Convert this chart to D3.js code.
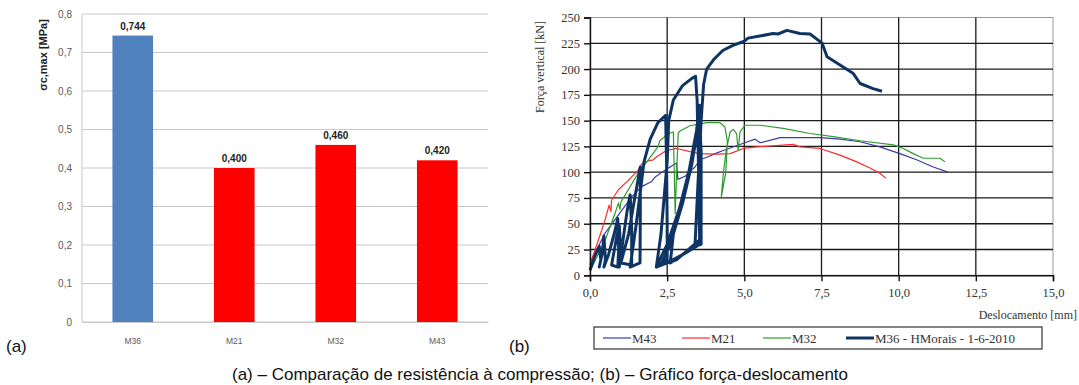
<!DOCTYPE html>
<html>
<head>
<meta charset="utf-8">
<script src="https://cdn.jsdelivr.net/npm/d3@7"></script>
<style>
  body { margin: 0; background: #fff; }
  svg { display: block; }
</style>
</head>
<body>
<script>
// (a) bar chart
var barCats = ["M36", "M21", "M32", "M43"];
var barVals = [0.744, 0.400, 0.460, 0.420];
var barColors = ["#4f81bd", "#ff0000", "#ff0000", "#ff0000"];
var barTicks = [0, 0.1, 0.2, 0.3, 0.4, 0.5, 0.6, 0.7, 0.8];

// (b) force-displacement, [mm, kN]
var xTicksB = [0, 2.5, 5, 7.5, 10, 12.5, 15];
var yTicksB = [0, 25, 50, 75, 100, 125, 150, 175, 200, 225, 250];

var m43 = [[0,10],[0.05,15],[0.27,28],[0.49,41],[0.81,54],[1.03,63],[1.35,76],[1.67,86],[2.0,91],[2.1,95],
  [2.43,102],[2.75,108],[2.8,109],[2.85,93],[3.08,96],[3.4,105],[3.56,112],[3.83,115],[4.05,118],[4.32,121],
  [4.97,128],[5.35,132],[5.51,128.5],[6.16,133.5],[7.45,133.5],[8.1,132],[8.75,129.5],[9.39,124.5],
  [10.04,118],[10.58,112],[11.12,105],[11.6,100]];

var m21 = [[0,10],[0.05,15],[0.27,34],[0.49,54],[0.62,68],[0.68,62],[0.7,73],[0.92,83],[1.24,92],[1.56,102],
  [1.67,108],[1.89,111],[2.05,112],[2.16,115],[2.48,121],[2.81,123],[3.24,120],[3.56,118],[4.1,117.5],
  [4.54,118],[4.97,123],[5.4,124.5],[6.59,127],[6.8,124.5],[7.45,123],[8.1,116.5],[8.64,110],[9.07,104],
  [9.39,99],[9.59,94]];

var m32 = [[0,5],[0.05,7],[0.49,34],[0.81,60],[0.92,70],[0.97,64],[1.0,71],[1.24,83],[1.56,99],[1.89,112],
  [2.21,125],[2.27,131],[2.59,138],[2.7,139],[2.73,100],[2.76,60],[2.8,95],[2.86,138],[2.92,140],
  [3.24,145],[3.78,148],[4.21,148],[4.37,144],[4.45,130],[4.4,100],[4.25,75],[4.32,99],[4.41,121],
  [4.54,139],[4.64,141.5],[4.75,137.5],[4.8,121],[4.86,139],[5.02,145.5],[5.51,145.5],[6.26,142.5],
  [7.13,137.5],[7.88,134.5],[8.75,130.5],[9.83,126.5],[10.15,123],[10.47,118],[10.8,113.5],[11.34,113.5],
  [11.5,110]];

var m36 = [[0,5],[0.15,18],[0.3,28],[0.35,15],[0.3,8],[0.4,22],[0.45,38],[0.5,15],[0.45,8],
  [0.6,20],[0.8,42],[0.9,55],[0.93,25],[0.9,8],[0.7,10],[0.85,35],[0.95,48],[1.0,20],[0.95,8],
  [1.05,30],[1.2,62],[1.3,78],[1.35,45],[1.35,10],[1.0,12],
  [1.25,40],[1.45,75],[1.6,100],[1.63,105],[1.63,60],[1.62,12],[1.3,8],
  [1.5,50],[1.75,110],[1.95,132],[2.2,148],[2.45,155],[2.48,110],[2.5,50],[2.5,15],[2.15,8],
  [2.3,40],[2.5,110],[2.55,150],[2.7,170],[3.0,184],[3.3,191],[3.42,193],[3.47,170],[3.52,100],
  [3.55,40],[3.55,30],[3.0,20],[2.5,12],[2.15,8],
  [2.5,30],[2.9,65],[3.2,100],[3.45,140],[3.55,165],[3.58,100],[3.58,35],[2.8,15],[2.3,10],
  [2.6,30],[3.0,70],[3.3,108],[3.5,145],[3.57,160],[3.6,80],[3.6,32],[2.6,12],
  [2.7,40],[3.1,85],[3.4,125],[3.55,150],[3.6,120],[3.6,30],[3.4,28],
  [3.5,90],[3.6,150],[3.68,185],[3.78,200],[4.0,209],[4.3,218],[4.63,223],[5.0,227],[5.12,230],
  [5.5,232],[5.93,234.5],[6.09,234],[6.38,237.5],[6.8,234.5],[7.13,234],[7.39,228],[7.52,225],
  [7.68,212],[8.1,204],[8.52,196],[8.75,186],[9.17,181],[9.46,178.5]];

var series = [
  {name: "M43", data: m43, color: "#3b3ba6", width: 1.2},
  {name: "M21", data: m21, color: "#ff2a2a", width: 1.2},
  {name: "M32", data: m32, color: "#2f9a2f", width: 1.2},
  {name: "M36 - HMorais - 1-6-2010", data: m36, color: "#0e3463", width: 3}
];

var fmt = function (d, n) { return d3.format("." + n + "f")(d).replace(".", ","); };

var svg = d3.select("body").append("svg")
  .attr("width", 1079)
  .attr("height", 385);

/* ---------- (a) ---------- */
var xa = d3.scaleBand().domain(barCats).range([82, 488]).paddingInner(0.6).paddingOuter(0.3);
var ya = d3.scaleLinear().domain([0, 0.8]).range([322, 14]);

var ga = svg.append("g");

ga.selectAll("line.grid")
  .data(barTicks)
  .enter().append("line")
  .attr("x1", 82).attr("x2", 488)
  .attr("y1", d => ya(d)).attr("y2", d => ya(d))
  .attr("stroke", "#c8c8c8").attr("stroke-width", 1);

ga.append("line")
  .attr("x1", 82).attr("x2", 82).attr("y1", ya(0.8)).attr("y2", ya(0))
  .attr("stroke", "#c8c8c8");

var axA = ga.append("g")
  .attr("transform", "translate(82,0)")
  .call(d3.axisLeft(ya).tickValues(barTicks).tickSize(0).tickPadding(10)
    .tickFormat(d => d === 0 ? "0" : fmt(d, 1)));
axA.select(".domain").remove();
axA.selectAll("text").attr("font-family", "Liberation Sans, Arial, sans-serif")
  .attr("font-size", 10).attr("fill", "#595959");

var axAx = ga.append("g")
  .attr("transform", "translate(0,322)")
  .call(d3.axisBottom(xa).tickSize(0).tickPadding(16));
axAx.select(".domain").attr("stroke", "#c8c8c8");
axAx.selectAll("text").attr("font-family", "Liberation Sans, Arial, sans-serif")
  .attr("font-size", 8.5).attr("fill", "#595959");

ga.selectAll("rect.bar")
  .data(barVals)
  .enter().append("rect")
  .attr("x", (d, i) => xa(barCats[i]))
  .attr("width", xa.bandwidth())
  .attr("y", d => ya(d))
  .attr("height", d => ya(0) - ya(d))
  .attr("fill", (d, i) => barColors[i]);

ga.selectAll("text.val")
  .data(barVals)
  .enter().append("text")
  .attr("x", (d, i) => xa(barCats[i]) + xa.bandwidth() / 2)
  .attr("y", d => ya(d) - 6)
  .attr("text-anchor", "middle")
  .attr("font-family", "Liberation Sans, Arial, sans-serif")
  .attr("font-size", 10).attr("font-weight", "bold").attr("fill", "#222")
  .text(d => fmt(d, 3));

ga.append("text")
  .attr("transform", "translate(47,55) rotate(-90)")
  .attr("text-anchor", "middle")
  .attr("font-family", "Liberation Sans, Arial, sans-serif")
  .attr("font-size", 11).attr("font-weight", "bold").attr("fill", "#222")
  .text("σc,max [MPa]");

/* ---------- (b) ---------- */
var xb = d3.scaleLinear().domain([0, 15]).range([590, 1053]);
var yb = d3.scaleLinear().domain([0, 250]).range([275.3, 17.5]);
var gb = svg.append("g");

// frame
gb.append("rect")
  .attr("x", xb(0)).attr("y", yb(250))
  .attr("width", xb(15) - xb(0)).attr("height", yb(0) - yb(250))
  .attr("fill", "none").attr("stroke", "#9a9a9a").attr("stroke-width", 1);

gb.selectAll("line.hg")
  .data(yTicksB.filter(d => d > 0 && d < 250))
  .enter().append("line")
  .attr("x1", xb(0)).attr("x2", xb(15))
  .attr("y1", d => yb(d)).attr("y2", d => yb(d))
  .attr("stroke", "#1a1a1a").attr("stroke-width", 1.3);

gb.selectAll("line.vg")
  .data(xTicksB.filter(d => d > 0 && d < 15))
  .enter().append("line")
  .attr("y1", yb(0)).attr("y2", yb(250))
  .attr("x1", d => xb(d)).attr("x2", d => xb(d))
  .attr("stroke", "#1a1a1a").attr("stroke-width", 1.3);

var line = d3.line().x(d => xb(d[0])).y(d => yb(d[1]));

gb.selectAll("path.s")
  .data(series)
  .enter().append("path")
  .attr("d", d => line(d.data))
  .attr("fill", "none")
  .attr("stroke", d => d.color)
  .attr("stroke-width", d => d.width)
  .attr("stroke-linejoin", "round");

var axBy = gb.append("g")
  .attr("transform", "translate(" + xb(0) + ",0)")
  .call(d3.axisLeft(yb).tickValues(yTicksB).tickSize(6).tickPadding(4).tickFormat(d3.format("d")));
axBy.selectAll("line, path").attr("stroke", "#111").attr("stroke-width", 1.4);

var axBx = gb.append("g")
  .attr("transform", "translate(0," + yb(0) + ")")
  .call(d3.axisBottom(xb).tickValues(xTicksB).tickSize(6).tickPadding(7).tickFormat(d => fmt(d, 1)));
axBx.selectAll("line, path").attr("stroke", "#111").attr("stroke-width", 1.4);

gb.selectAll(".tick text")
  .attr("font-family", "Liberation Serif, Times New Roman, serif")
  .attr("font-size", 12.5).attr("fill", "#333");

gb.append("text")
  .attr("transform", "translate(544,67) rotate(-90)")
  .attr("text-anchor", "middle")
  .attr("font-family", "Liberation Serif, Times New Roman, serif")
  .attr("font-size", 12).attr("fill", "#333")
  .text("Força vertical [kN]");

gb.append("text")
  .attr("x", 1077).attr("y", 319)
  .attr("text-anchor", "end")
  .attr("font-family", "Liberation Serif, Times New Roman, serif")
  .attr("font-size", 12).attr("fill", "#333")
  .text("Deslocamento [mm]");

// legend
var lg = gb.append("g");
lg.append("rect")
  .attr("x", 594).attr("y", 327).attr("width", 448).attr("height", 22)
  .attr("fill", "#fff").attr("stroke", "#333").attr("stroke-width", 1.2);
var legX = [603, 682, 763, 846];
var items = lg.selectAll("g.item")
  .data(series)
  .enter().append("g")
  .attr("transform", (d, i) => "translate(" + legX[i] + ",338)");
items.append("line")
  .attr("x1", 0).attr("x2", 28)
  .attr("stroke", d => d.color).attr("stroke-width", d => d.width);
items.append("text")
  .attr("x", 29).attr("y", 4.5)
  .attr("font-family", "Liberation Serif, Times New Roman, serif")
  .attr("font-size", 13).attr("fill", "#333")
  .text(d => d.name);

/* ---------- labels ---------- */
svg.append("text").attr("x", 6).attr("y", 352)
  .attr("font-family", "Liberation Sans, Arial, sans-serif").attr("font-size", 17).attr("fill", "#111")
  .text("(a)");
svg.append("text").attr("x", 509).attr("y", 352)
  .attr("font-family", "Liberation Sans, Arial, sans-serif").attr("font-size", 17).attr("fill", "#111")
  .text("(b)");
svg.append("text").attr("x", 540).attr("y", 380)
  .attr("text-anchor", "middle")
  .attr("font-family", "Liberation Sans, Arial, sans-serif").attr("font-size", 17).attr("fill", "#111")
  .text("(a) – Comparação de resistência à compressão; (b) – Gráfico força-deslocamento");
</script>
</body>
</html>
